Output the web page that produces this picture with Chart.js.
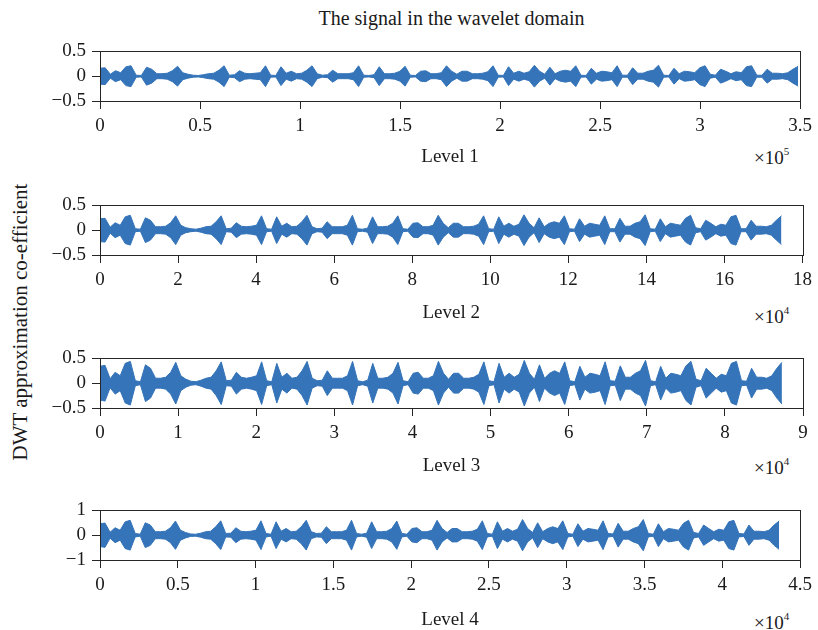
<!DOCTYPE html>
<html><head><meta charset="utf-8">
<script src="https://cdn.jsdelivr.net/npm/chart.js@4.4.1/dist/chart.umd.min.js"></script>
<style>
body{margin:0;background:#fff;width:818px;height:630px;overflow:hidden;position:relative;font-family:"Liberation Serif","Times New Roman",serif;color:#1a1a1a}
canvas{position:absolute;left:0}
.t{position:absolute;white-space:nowrap;line-height:1}
.t sup{font-size:11px;vertical-align:top;position:relative;top:-2px}
</style></head><body>
<div class="t" style="left:0;width:903px;text-align:center;top:8px;font-size:20px">The signal in the wavelet domain</div>
<div class="t" style="left:20px;top:322px;font-size:21px;transform:translate(-50%,-50%) rotate(-90deg);transform-origin:50% 50%;">DWT approximation co-efficient</div>
<div class="t" style="left:754px;top:148px;font-size:19px">×10<sup>5</sup></div>
<div class="t" style="left:754px;top:307px;font-size:19px">×10<sup>4</sup></div>
<div class="t" style="left:754px;top:458px;font-size:19px">×10<sup>4</sup></div>
<div class="t" style="left:754px;top:613px;font-size:19px">×10<sup>4</sup></div>
<canvas id="c1" width="818" height="137" style="top:34px"></canvas>
<canvas id="c2" width="818" height="137" style="top:188px"></canvas>
<canvas id="c3" width="818" height="137" style="top:341px"></canvas>
<canvas id="c4" width="818" height="137" style="top:493px"></canvas>
<script>
// Envelope (peak |coefficient|) of each approximation signal, sampled evenly along the signal
const level1Envelope = [
0.16,0.17,0.04,0.11,0.07,0.19,0.21,0.02,0.015,0.18,
0.14,0.05,0.05,0.06,0.11,0.20,0.07,0.04,0.02,0.015,
0.03,0.05,0.06,0.12,0.21,0.02,0.03,0.11,0.06,0.05,
0.06,0.07,0.21,0.02,0.015,0.19,0.06,0.10,0.05,0.06,
0.12,0.21,0.05,0.02,0.03,0.12,0.05,0.05,0.05,0.07,
0.21,0.02,0.015,0.03,0.19,0.05,0.05,0.06,0.10,0.20,
0.02,0.015,0.10,0.11,0.05,0.05,0.07,0.21,0.10,0.04,
0.10,0.10,0.05,0.05,0.06,0.09,0.21,0.02,0.015,0.19,
0.06,0.10,0.06,0.09,0.22,0.10,0.04,0.18,0.05,0.10,
0.12,0.10,0.21,0.02,0.015,0.16,0.06,0.10,0.09,0.07,
0.21,0.02,0.02,0.17,0.06,0.06,0.10,0.12,0.22,0.02,
0.015,0.16,0.05,0.10,0.09,0.07,0.17,0.21,0.04,0.02,
0.14,0.10,0.05,0.09,0.07,0.19,0.21,0.02,0.02,0.14,
0.06,0.06,0.05,0.07,0.14,0.20];
const level2Envelope = [
0.23,0.24,0.06,0.15,0.10,0.27,0.30,0.03,0.02,0.25,
0.20,0.07,0.07,0.08,0.15,0.29,0.10,0.05,0.03,0.02,
0.04,0.07,0.08,0.17,0.29,0.03,0.04,0.15,0.08,0.07,
0.08,0.10,0.29,0.03,0.02,0.27,0.08,0.14,0.07,0.08,
0.17,0.30,0.07,0.03,0.04,0.17,0.07,0.07,0.07,0.10,
0.30,0.03,0.02,0.04,0.27,0.07,0.07,0.08,0.14,0.29,
0.03,0.02,0.14,0.15,0.07,0.07,0.10,0.30,0.14,0.05,
0.14,0.14,0.07,0.07,0.08,0.12,0.29,0.03,0.02,0.27,
0.08,0.14,0.08,0.12,0.31,0.14,0.05,0.25,0.07,0.14,
0.17,0.14,0.29,0.03,0.02,0.23,0.08,0.14,0.12,0.10,
0.29,0.03,0.03,0.24,0.08,0.08,0.14,0.17,0.31,0.03,
0.02,0.23,0.07,0.14,0.12,0.10,0.24,0.30,0.05,0.03,
0.20,0.14,0.07,0.12,0.10,0.27,0.30,0.03,0.03,0.20,
0.08,0.08,0.07,0.10,0.20,0.29];
const level3Envelope = [
0.34,0.36,0.09,0.22,0.15,0.40,0.44,0.05,0.03,0.37,
0.30,0.10,0.10,0.12,0.22,0.42,0.15,0.08,0.04,0.03,
0.06,0.10,0.12,0.25,0.43,0.05,0.06,0.22,0.12,0.10,
0.12,0.15,0.43,0.05,0.03,0.40,0.12,0.20,0.10,0.12,
0.25,0.44,0.10,0.05,0.06,0.25,0.10,0.10,0.10,0.15,
0.44,0.05,0.03,0.06,0.40,0.10,0.10,0.12,0.20,0.42,
0.05,0.03,0.20,0.22,0.10,0.10,0.15,0.44,0.20,0.08,
0.20,0.20,0.10,0.10,0.12,0.18,0.43,0.05,0.03,0.40,
0.12,0.20,0.12,0.18,0.46,0.20,0.08,0.37,0.10,0.20,
0.25,0.20,0.43,0.05,0.03,0.34,0.12,0.20,0.18,0.15,
0.43,0.05,0.04,0.35,0.12,0.12,0.20,0.25,0.46,0.05,
0.03,0.34,0.10,0.20,0.18,0.15,0.35,0.44,0.08,0.05,
0.30,0.20,0.10,0.18,0.15,0.40,0.44,0.05,0.04,0.30,
0.12,0.12,0.10,0.15,0.30,0.42];
const level4Envelope = [
0.46,0.49,0.12,0.30,0.20,0.54,0.60,0.07,0.04,0.50,
0.41,0.14,0.14,0.16,0.30,0.57,0.20,0.11,0.05,0.04,
0.08,0.14,0.16,0.34,0.58,0.07,0.08,0.30,0.16,0.14,
0.16,0.20,0.58,0.07,0.04,0.54,0.16,0.27,0.14,0.16,
0.34,0.60,0.14,0.07,0.08,0.34,0.14,0.14,0.14,0.20,
0.60,0.07,0.04,0.08,0.54,0.14,0.14,0.16,0.27,0.57,
0.07,0.04,0.27,0.30,0.14,0.14,0.20,0.60,0.27,0.11,
0.27,0.27,0.14,0.14,0.16,0.24,0.58,0.07,0.04,0.54,
0.16,0.27,0.16,0.24,0.63,0.27,0.11,0.50,0.14,0.27,
0.34,0.27,0.58,0.07,0.04,0.46,0.16,0.27,0.24,0.20,
0.58,0.07,0.05,0.48,0.16,0.16,0.27,0.34,0.63,0.07,
0.04,0.46,0.14,0.27,0.24,0.20,0.48,0.60,0.11,0.07,
0.41,0.27,0.14,0.24,0.20,0.54,0.60,0.07,0.05,0.41,
0.16,0.16,0.14,0.20,0.41,0.57];

// signal lengths in axis units (level 1 in 1e5 samples, others in 1e4)
const signalLengths = [3.49, 17.46, 8.73, 4.365];
const xTicks1 = [0,0.5,1,1.5,2,2.5,3,3.5];
const xTicks2 = [0,2,4,6,8,10,12,14,16,18];
const xTicks3 = [0,1,2,3,4,5,6,7,8,9];
const xTicks4 = [0,0.5,1,1.5,2,2.5,3,3.5,4,4.5];
const yTicksHalf = [-0.5,0,0.5];
const yTicksOne = [-1,0,1];
const levelNames = ['Level 1','Level 2','Level 3','Level 4'];

const BLUE = '#3574b9';
const FRAME = '#262626';
const TXT = '#1a1a1a';
const FAM = '"Liberation Serif","Times New Roman",serif';
const fmt = v => (v < 0 ? '\u2212' : '') + String(Math.abs(v));

const framePlugin = {
  id: 'frame',
  afterDatasetsDraw(chart) {
    const {ctx, chartArea: a} = chart;
    ctx.save();
    ctx.strokeStyle = FRAME; ctx.lineWidth = 1;
    ctx.strokeRect(Math.round(a.left) + 0.5, Math.round(a.top) + 0.5,
                   Math.round(a.right - a.left), Math.round(a.bottom - a.top));
    ctx.restore();
  }
};

function makeChart(id, env, len, xTicks, yTicks, name, levelOffset) {
  const n = env.length;
  const up = env.map((a, i) => ({x: i * len / (n - 1), y: a}));
  const dn = env.map((a, i) => ({x: i * len / (n - 1), y: -a}));
  const yMax = yTicks[yTicks.length - 1];
  const lh = 19 * 1.2;
  const gridOpts = {display: true, drawOnChartArea: false, drawTicks: true, tickLength: 8, color: FRAME, lineWidth: 1};
  return new Chart(document.getElementById(id), {
    type: 'line',
    data: {datasets: [
      {data: up, borderColor: BLUE, borderWidth: 1, pointRadius: 0, tension: 0, fill: false},
      {data: dn, borderColor: BLUE, borderWidth: 1, pointRadius: 0, tension: 0, fill: '-1', backgroundColor: BLUE}
    ]},
    options: {
      animation: false, responsive: false, devicePixelRatio: 1, events: [],
      layout: {padding: {top: 12, right: 15, left: 0, bottom: 0}},
      plugins: {legend: {display: false}, tooltip: {enabled: false}, title: {display: false}},
      scales: {
        x: {
          type: 'linear', min: 0, max: xTicks[xTicks.length - 1],
          afterBuildTicks: s => { s.ticks = xTicks.map(v => ({value: v})); },
          afterFit: s => { s.height = 70; },
          grid: gridOpts,
          border: {display: true, color: FRAME, width: 1},
          ticks: {font: {family: FAM, size: 19}, color: TXT, padding: 6, maxRotation: 0, autoSkip: false, callback: v => fmt(v)},
          title: {display: true, text: name, font: {family: FAM, size: 19}, color: TXT,
                  padding: {top: 0, bottom: 70 - levelOffset - lh / 2}}
        },
        y: {
          type: 'linear', min: -yMax, max: yMax,
          afterBuildTicks: s => { s.ticks = yTicks.map(v => ({value: v})); },
          afterFit: s => { s.width = 100; },
          grid: gridOpts,
          border: {display: true, color: FRAME, width: 1},
          ticks: {font: {family: FAM, size: 19}, color: TXT, padding: 6, autoSkip: false, callback: v => fmt(v)}
        }
      }
    },
    plugins: [framePlugin]
  });
}

makeChart('c1', level1Envelope, signalLengths[0], xTicks1, yTicksHalf, levelNames[0], 56);
makeChart('c2', level2Envelope, signalLengths[1], xTicks2, yTicksHalf, levelNames[1], 58);
makeChart('c3', level3Envelope, signalLengths[2], xTicks3, yTicksHalf, levelNames[2], 58);
makeChart('c4', level4Envelope, signalLengths[3], xTicks4, yTicksOne, levelNames[3], 60);
</script>
</body></html>
